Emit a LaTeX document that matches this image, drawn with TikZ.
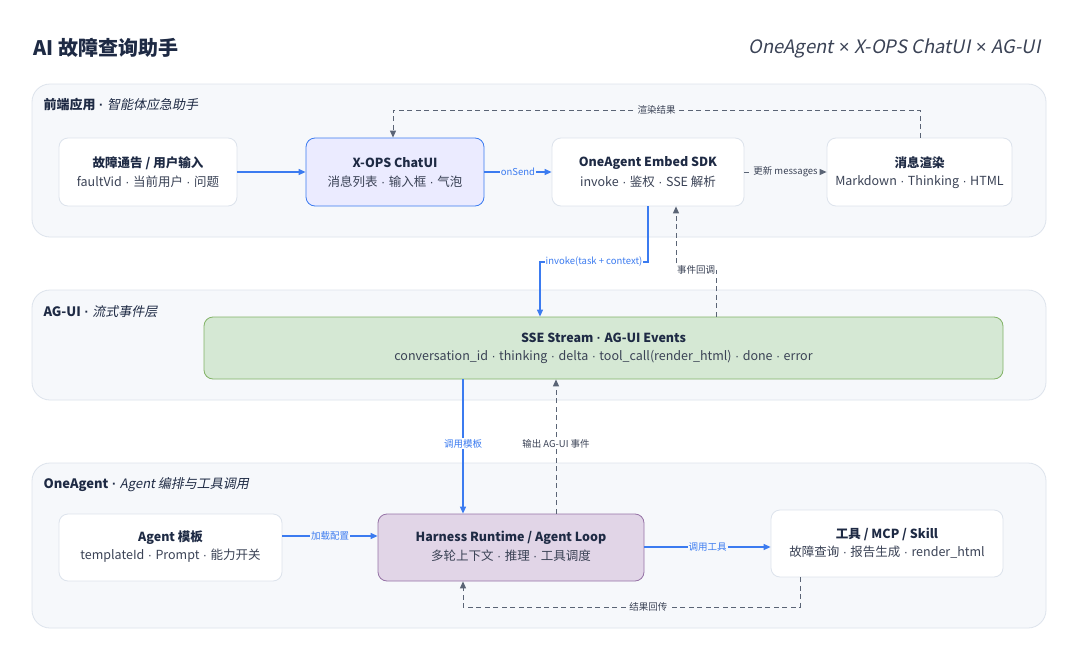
\documentclass[tikz,border=0pt]{standalone}
\usepackage{fontspec}
\setmainfont{Noto Sans CJK SC}[ItalicFont={Noto Sans CJK SC}, ItalicFeatures={FakeSlant=0.2}, BoldItalicFont={Noto Sans CJK SC Bold}, BoldItalicFeatures={FakeSlant=0.2}]
\newfontfamily\latinf{Liberation Sans}[ItalicFont={Liberation Sans Italic}, BoldFont={Liberation Sans Bold}]
\newcommand{\dt}{{\latinf\ ·\ }}
\newcommand{\tms}{{\latinf\ ×\ }}
\usetikzlibrary{arrows.meta}
\definecolor{navy}{HTML}{1E2A44}
\definecolor{panelbg}{HTML}{F6F8FB}
\definecolor{panelbd}{HTML}{DDE3EC}
\definecolor{blueln}{HTML}{3B7BF0}
\definecolor{grayln}{HTML}{5A6475}
\definecolor{txt}{HTML}{3A4255}
\tikzset{
  panel/.style={draw=panelbd, fill=panelbg, rounded corners=18pt, line width=0.8pt},
  box/.style={draw=panelbd, fill=white, rounded corners=9pt, line width=0.8pt, align=center, inner sep=0pt},
  ttl/.style={font=\bfseries\fontsize{12.5}{15}\selectfont, text=navy},
  sub/.style={font=\fontsize{12.5}{15}\selectfont, text=txt},
  bluearr/.style={draw=blueln, line width=1.2pt, -{Triangle[length=7pt,width=6pt]}},
  dasharr/.style={draw=grayln, line width=1pt, dash pattern=on 5pt off 3.5pt, -{Triangle[length=7pt,width=6pt]}},
  lbl/.style={font=\fontsize{9.5}{11}\selectfont, inner sep=1pt},
  plabel/.style={anchor=west, font=\fontsize{13}{15}\selectfont, text=navy},
}
\begin{document}
\begin{tikzpicture}[x=1pt,y=-1pt]
\useasboundingbox (0,0) rectangle (1080,656);
\fill[white] (0,0) rectangle (1080,656);
\node[anchor=west, font=\bfseries\fontsize{20}{24}\selectfont, text=navy] (title) at (30,48) {AI 故障查询助手};
\node[anchor=east, font=\itshape\fontsize{18.5}{22}\selectfont, text=txt] (subt) at (1044,48) {OneAgent\tms X-OPS ChatUI\tms AG-UI};

% panels
\draw[panel] (32,84) rectangle (1046,237);
\draw[panel] (32,290) rectangle (1046,400);
\draw[panel] (32,463) rectangle (1046,628);
\node[plabel] (p1) at (40,105) {\textbf{前端应用{\bfseries\dt}}\textit{智能体应急助手}};
\node[plabel] (p2) at (40,312) {\textbf{AG-UI{\bfseries\dt}}\textit{流式事件层}};
\node[plabel] (p3) at (40,485) {\textbf{OneAgent{\bfseries\dt}}\textit{Agent 编排与工具调用}};

% boxes
\node[box, minimum width=178pt, minimum height=68pt] (a1) at (148,172) {};
\node[box, draw=blueln, fill=blue!8, minimum width=178pt, minimum height=68pt] (a2) at (395,172) {};
\node[box, minimum width=192pt, minimum height=68pt] (a3) at (648,172) {};
\node[box, minimum width=185pt, minimum height=68pt] (a4) at (919.5,172) {};
\node[box, draw={rgb,255:red,130;green,179;blue,102}, fill={rgb,255:red,213;green,232;blue,212}, minimum width=799pt, minimum height=62pt] (sse) at (603.5,348) {};
\node[box, minimum width=223pt, minimum height=67pt] (b1) at (170.5,547.5) {};
\node[box, draw={rgb,255:red,150;green,115;blue,166}, fill={rgb,255:red,225;green,213;blue,231}, minimum width=266pt, minimum height=67pt] (b2) at (511,547.5) {};
\node[box, minimum width=232pt, minimum height=67pt] (b3) at (887,543.5) {};

\node[ttl] (a1t) at (148,163) {故障通告 / 用户输入};
\node[sub] (a1s) at (148,182) {faultVid\dt 当前用户\dt 问题};
\node[ttl] (a2t) at (395,163) {X-OPS ChatUI};
\node[sub] (a2s) at (395,182) {消息列表\dt 输入框\dt 气泡};
\node[ttl] (a3t) at (648,163) {OneAgent Embed SDK};
\node[sub] (a3s) at (648,182) {invoke\dt 鉴权\dt SSE 解析};
\node[ttl] (a4t) at (919.5,163) {消息渲染};
\node[sub] (a4s) at (919.5,182) {Markdown\dt Thinking\dt HTML};
\node[ttl] (sset) at (603.5,338) {SSE Stream\dt AG-UI Events};
\node[sub] (sses) at (603.5,357) {conversation\_id\dt thinking\dt delta\dt tool\_call(render\_html)\dt done\dt error};
\node[ttl] (b1t) at (170.5,538) {Agent 模板};
\node[sub] (b1s) at (170.5,556) {templateId\dt Prompt\dt 能力开关};
\node[ttl] (b2t) at (511,538) {Harness Runtime / Agent Loop};
\node[sub] (b2s) at (511,556) {多轮上下文\dt 推理\dt 工具调度};
\node[ttl] (b3t) at (887,534) {工具 / MCP / Skill};
\node[sub] (b3s) at (887,552) {故障查询\dt 报告生成\dt render\_html};

% connectors
\draw[bluearr] (a1) -- (a2);
\draw[bluearr] (a2) -- node[lbl, fill=panelbg, text=blueln] {onSend} (a3);
\draw[dasharr] (a3) -- node[lbl, fill=panelbg, text=txt] {更新 messages} (a4);
\draw[dasharr] (a4.north -| 920,0) -- (920,110) -- node[lbl, fill=panelbg, text=txt, pos=0.5] {渲染结果} (393,110) -- (a2.north -| 393,0);
\draw[bluearr] (a3.south -| 648,0) -- (648,262) -- node[lbl, fill=white, text=blueln] {invoke(task + context)} (540,262) -- (sse.north -| 540,0);
\draw[dasharr] (sse.north -| 716,0) -- (716,270) -- node[lbl, fill=white, text=txt] {事件回调} (676,270) -- (a3.south -| 676,0);
\draw[bluearr] (sse.south -| 463,0) -- node[lbl, fill=white, text=blueln, pos=0.48] {调用模板} (b2.north -| 463,0);
\draw[dasharr] (b2.north -| 556,0) -- node[lbl, fill=white, text=txt, pos=0.52] {输出 AG-UI 事件} (sse.south -| 556,0);
\draw[bluearr] (b1.east |- 0,536) -- node[lbl, fill=panelbg, text=blueln] {加载配置} (b2.west |- 0,536);
\draw[bluearr] (b2.east |- 0,547) -- node[lbl, fill=panelbg, text=blueln] {调用工具} (b3.west |- 0,547);
\draw[dasharr] (b3.south -| 800,0) -- (800,607) -- node[lbl, fill=panelbg, text=txt, pos=0.45] {结果回传} (463,607) -- (b2.south -| 463,0);
\end{tikzpicture}
\end{document}
